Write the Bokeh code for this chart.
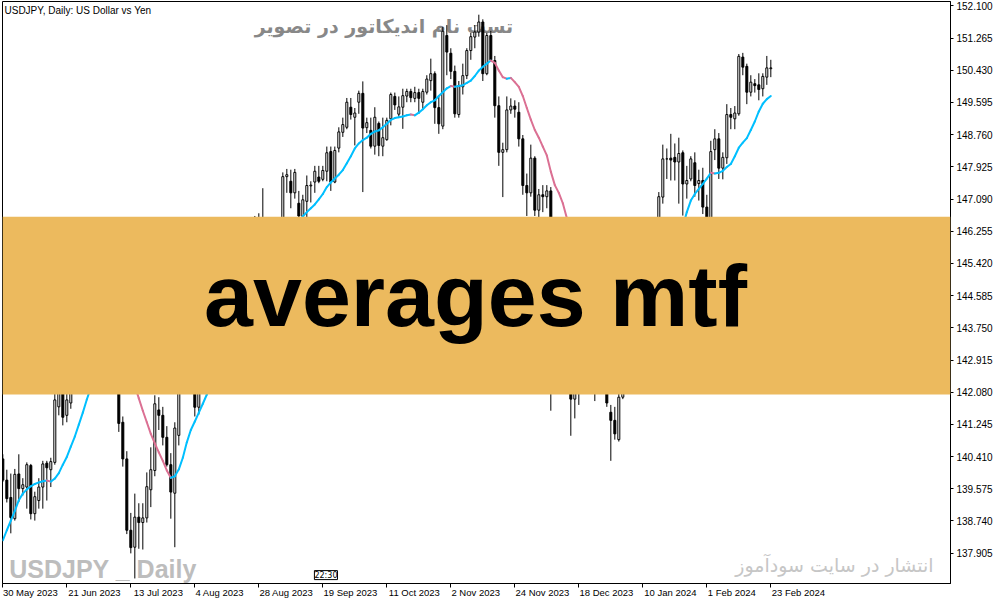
from bokeh.plotting import figure
from bokeh.models import Range1d, FixedTicker, BoxAnnotation, Label, ColumnDataSource
from bokeh.core.properties import value
from bokeh.embed import file_html
from bokeh.resources import INLINE

# ---------------- data ----------------
x_label_bar = [0, 16, 32, 48, 64, 80, 96, 112, 128, 144, 160, 176, 192]
x_label_text = ["30 May 2023", "21 Jun 2023", "13 Jul 2023", "4 Aug 2023", "28 Aug 2023",
                "19 Sep 2023", "11 Oct 2023", "2 Nov 2023", "24 Nov 2023", "18 Dec 2023",
                "10 Jan 2024", "1 Feb 2024", "23 Feb 2024"]
price_ticks = [137.905, 138.740, 139.575, 140.410, 141.245, 142.080, 142.915, 143.750, 144.585,
               145.420, 146.255, 147.090, 147.925, 148.760, 149.595, 150.430, 151.265, 152.100]

opens = [140.35, 139.80, 139.35, 138.80, 139.96, 139.58, 139.62, 140.18, 138.93, 139.27,
         139.62, 140.24, 140.07, 140.26, 141.70, 142.10, 141.48, 141.80, 143.10, 143.70,
         143.45, 144.05, 144.45, 144.80, 144.30, 144.65, 144.45, 144.60, 144.05, 142.10,
         141.30, 140.35, 138.50, 138.06, 138.84, 138.70, 138.82, 139.55, 140.05, 141.62,
         141.48, 140.91, 140.20, 139.46, 140.96, 142.30, 143.35, 143.30, 142.55, 141.69,
         142.45, 143.35, 143.75, 144.75, 144.95, 145.55, 145.60, 146.35, 145.85, 145.40,
         146.20, 145.85, 144.85, 146.10, 146.40, 146.55, 145.90, 146.15, 145.55, 146.20,
         146.50, 147.67, 147.55, 147.25, 146.98, 146.64, 147.03, 147.43, 147.53, 147.66,
         147.60, 147.81, 148.32, 147.53, 148.41, 148.82, 148.95, 149.47, 149.21, 149.60,
         149.83, 148.94, 148.87, 148.46, 149.05, 148.46, 148.63, 149.17, 149.75, 149.29,
         149.47, 149.76, 149.88, 149.70, 149.85, 149.60, 149.86, 150.16, 150.34, 149.46,
         148.98, 151.33, 150.87, 150.40, 149.28, 150.00, 150.29, 150.94, 151.29, 151.42,
         151.68, 150.34, 151.33, 150.68, 149.51, 148.30, 148.37, 149.40, 149.50, 149.34,
         148.65, 147.44, 147.25, 148.15, 146.80, 147.20, 147.15, 147.30, 144.10, 144.95,
         146.15, 145.45, 142.90, 141.90, 142.15, 142.80, 143.80, 143.55, 142.10, 142.35,
         142.40, 142.45, 141.56, 141.35, 140.85, 141.95, 143.25, 144.60, 144.60, 144.25,
         144.45, 145.75, 145.30, 144.90, 145.75, 147.14, 148.13, 148.15, 148.17, 148.05,
         148.29, 147.48, 147.61, 148.03, 147.49, 147.57, 146.88, 146.40, 148.37, 148.65,
         147.89, 148.16, 149.28, 149.17, 149.30, 150.77, 150.53, 149.86, 150.08, 150.05,
         149.95, 150.25, 150.47]
highs = [140.47, 140.07, 139.97, 140.09, 140.47, 139.85, 140.26, 140.22, 139.50, 139.85,
         140.30, 140.30, 140.38, 142.05, 142.25, 142.20, 142.10, 143.20, 143.85, 143.75,
         144.15, 144.65, 144.90, 145.05, 144.90, 144.70, 144.70, 144.70, 144.20, 142.35,
         141.45, 140.55, 138.95, 139.45, 139.20, 139.20, 140.00, 140.65, 142.00, 141.95,
         141.70, 141.20, 140.50, 141.30, 142.70, 143.55, 143.90, 143.90, 142.90, 142.55,
         143.40, 143.90, 144.80, 145.00, 145.60, 145.85, 146.40, 146.55, 145.95, 146.25,
         146.35, 146.00, 146.15, 146.65, 146.72, 147.37, 146.30, 146.25, 146.30, 146.60,
         147.78, 147.87, 147.85, 147.87, 147.30, 147.20, 147.70, 147.55, 147.95, 147.95,
         147.95, 148.45, 148.45, 148.45, 148.95, 149.20, 149.71, 149.71, 149.45, 149.90,
         150.14, 149.20, 149.20, 149.47, 149.10, 149.20, 149.20, 149.85, 149.85, 149.75,
         149.95, 149.95, 149.95, 150.00, 149.95, 149.95, 150.30, 150.73, 150.40, 149.75,
         151.55, 151.60, 151.00, 150.55, 150.15, 150.60, 151.00, 151.40, 151.60, 151.87,
         151.75, 151.40, 151.45, 150.80, 149.75, 148.55, 149.75, 149.70, 149.65, 149.60,
         148.75, 147.75, 148.50, 148.20, 147.35, 147.45, 147.45, 147.40, 145.20, 146.60,
         146.30, 145.50, 143.00, 142.25, 142.85, 144.95, 143.85, 143.70, 142.55, 142.50,
         142.55, 142.55, 141.75, 141.70, 142.20, 143.45, 144.85, 145.95, 144.95, 144.60,
         145.85, 146.40, 145.55, 146.00, 147.27, 148.50, 148.40, 148.78, 148.53, 148.68,
         148.35, 147.95, 148.20, 148.30, 147.85, 147.90, 147.20, 148.60, 148.90, 148.80,
         148.30, 149.55, 149.45, 149.50, 150.85, 150.88, 150.60, 150.30, 150.20, 150.35,
         150.35, 150.80, 150.70]
lows = [139.75, 139.22, 138.42, 138.75, 139.23, 139.40, 139.06, 138.78, 138.75, 139.06,
        139.06, 139.27, 139.62, 140.20, 141.48, 141.22, 141.30, 141.65, 142.95, 143.00,
        143.25, 143.70, 144.15, 144.10, 144.25, 144.25, 143.95, 143.55, 142.05, 141.05,
        140.15, 138.40, 137.90, 137.25, 138.02, 138.00, 138.70, 139.10, 139.90, 141.10,
        140.70, 140.15, 138.80, 138.06, 140.70, 142.20, 142.90, 142.35, 141.45, 141.50,
        142.30, 142.90, 143.10, 144.20, 144.70, 144.95, 145.35, 145.70, 144.90, 145.20,
        145.50, 144.55, 144.85, 145.75, 146.00, 145.85, 145.55, 145.35, 144.45, 146.00,
        146.40, 147.25, 146.85, 147.10, 145.90, 146.40, 146.60, 147.00, 147.25, 147.50,
        147.55, 147.55, 147.30, 147.50, 148.30, 148.70, 148.90, 149.15, 148.48, 149.30,
        147.27, 148.80, 148.40, 148.24, 148.20, 148.20, 148.60, 149.00, 149.40, 149.20,
        148.91, 149.60, 149.60, 149.60, 149.30, 149.40, 149.80, 149.90, 149.04, 148.78,
        148.90, 150.30, 150.20, 149.20, 149.20, 149.80, 150.20, 150.70, 151.00, 151.30,
        150.15, 150.30, 150.65, 149.20, 147.95, 147.14, 148.30, 149.30, 149.20, 148.45,
        147.20, 146.65, 147.15, 146.65, 146.25, 146.75, 146.85, 141.60, 143.70, 144.95,
        145.20, 142.70, 140.95, 141.40, 141.75, 142.75, 142.90, 142.05, 141.85, 142.20,
        142.05, 141.70, 140.30, 140.85, 140.80, 141.90, 142.80, 143.80, 143.65, 143.40,
        144.35, 144.95, 144.35, 144.90, 145.70, 146.97, 147.61, 147.57, 147.57, 146.97,
        146.66, 147.10, 147.55, 147.15, 147.05, 146.70, 145.90, 146.10, 148.10, 147.61,
        147.60, 148.00, 148.90, 148.90, 149.25, 150.30, 149.55, 149.75, 149.85, 149.65,
        149.75, 150.05, 150.25]
closes = [139.80, 139.32, 138.83, 139.95, 139.58, 139.68, 140.20, 138.93, 139.37, 139.62,
          140.22, 140.12, 140.28, 141.88, 142.10, 141.43, 141.88, 143.10, 143.70, 143.45,
          144.05, 144.45, 144.80, 144.30, 144.65, 144.45, 144.60, 144.05, 142.10, 141.27,
          140.35, 138.50, 138.05, 138.84, 138.70, 138.82, 139.63, 140.07, 141.78, 141.48,
          140.91, 140.20, 139.49, 141.15, 142.30, 143.35, 143.30, 142.55, 141.69, 142.45,
          143.35, 143.75, 144.75, 144.95, 145.55, 145.60, 146.35, 145.85, 145.40, 146.20,
          145.85, 144.85, 146.10, 146.40, 146.55, 145.90, 146.15, 145.55, 146.20, 146.50,
          147.67, 147.72, 147.25, 147.78, 146.65, 147.07, 147.44, 147.45, 147.81, 147.55,
          147.83, 148.29, 147.53, 148.35, 148.83, 149.02, 149.60, 149.28, 149.32, 149.83,
          148.93, 149.07, 148.46, 149.21, 148.48, 148.68, 149.13, 149.80, 149.53, 149.48,
          149.77, 149.88, 149.72, 149.85, 149.70, 149.88, 150.20, 150.34, 149.46, 149.04,
          151.44, 150.90, 150.40, 149.30, 150.03, 150.29, 150.94, 151.30, 151.42, 151.68,
          150.34, 151.33, 150.70, 149.51, 148.30, 148.37, 149.40, 149.50, 149.42, 148.65,
          147.44, 147.25, 148.15, 146.80, 147.20, 147.15, 147.30, 144.10, 144.95, 146.15,
          145.45, 142.90, 141.90, 142.15, 142.80, 143.80, 143.55, 142.10, 142.40, 142.40,
          142.45, 141.80, 141.35, 141.00, 141.95, 143.25, 144.60, 144.60, 144.25, 144.45,
          145.75, 145.30, 144.90, 145.75, 147.15, 148.13, 148.13, 148.10, 148.05, 148.27,
          147.48, 147.57, 148.13, 147.44, 147.57, 146.88, 146.40, 148.32, 148.65, 147.89,
          148.17, 149.28, 149.21, 149.32, 150.79, 150.51, 149.86, 150.12, 150.03, 149.93,
          150.27, 150.49, 150.49]

# moving average (bar index, value)
ma_bars = [0, 1, 2, 3, 4, 5, 6, 7, 8, 9, 10, 11, 12, 13, 14, 15, 16, 17, 18, 19, 20, 21, 22, 23,
           24, 25, 26, 27, 28, 29, 30, 31, 32, 33, 34, 35, 36, 37, 38, 39, 40, 41, 42, 43, 44, 45,
           46, 47, 48, 49, 50, 51, 53, 55, 57, 59, 61, 63, 65, 67, 69, 71, 73, 75, 76, 77, 78, 79,
           80, 81, 82, 83, 84, 85, 86, 87, 88, 89, 90, 91, 92, 93, 94, 95, 96, 97, 98, 99, 100,
           101, 102, 103, 104, 105, 106, 107, 108, 109, 110, 111, 112, 113, 114, 115, 116, 117,
           118, 119, 120, 121, 122, 123, 124, 125, 126, 127, 128, 129, 130, 131, 132, 133, 134,
           135, 136, 137, 138, 139, 140, 141, 143, 145, 147, 149, 151, 153, 155, 157, 158, 159,
           161, 163, 165, 167, 169, 171, 172, 173, 174, 175, 176, 177, 178, 179, 180, 181, 182,
           183, 184, 185, 186, 187, 188, 189, 190, 191, 192]
ma_vals = [138.24, 138.50, 138.75, 139.00, 139.28, 139.45, 139.56, 139.64, 139.70, 139.74, 139.77,
           139.79, 139.76, 139.84, 139.98, 140.20, 140.40, 140.67, 140.93, 141.24, 141.55, 141.89,
           142.20, 142.50, 142.78, 143.00, 143.20, 143.33, 143.38, 143.30, 143.10, 142.85, 142.55,
           142.25, 141.92, 141.60, 141.30, 141.00, 140.75, 140.52, 140.30, 140.05, 139.86, 139.90,
           140.08, 140.38, 140.78, 141.10, 141.32, 141.55, 141.78, 142.02, 142.50, 143.00, 143.55,
           144.05, 144.50, 144.90, 145.25, 145.60, 145.90, 146.15, 146.40, 146.64, 146.75, 146.85,
           146.95, 147.08, 147.22, 147.40, 147.52, 147.62, 147.72, 147.84, 148.02, 148.20, 148.40,
           148.53, 148.62, 148.68, 148.78, 148.84, 148.87, 148.95, 149.04, 149.14, 149.19, 149.21,
           149.23, 149.26, 149.28, 149.26, 149.33, 149.42, 149.52, 149.60, 149.65, 149.76, 149.86,
           149.96, 150.02, 150.00, 150.02, 150.04, 150.10, 150.16, 150.28, 150.42, 150.52, 150.60,
           150.68, 150.62, 150.42, 150.25, 150.21, 150.23, 150.12, 150.00, 149.76, 149.45, 149.15,
           148.88, 148.68, 148.45, 148.22, 147.80, 147.45, 147.25, 146.98, 146.60, 146.00, 145.40,
           144.80, 144.20, 143.70, 143.30, 143.00, 142.85, 142.80, 142.85, 143.20, 143.80, 144.50,
           145.20, 146.00, 146.75, 147.05, 147.22, 147.35, 147.48, 147.62, 147.77, 147.75, 147.77,
           147.82, 147.92, 148.00, 148.20, 148.42, 148.55, 148.67, 148.88, 149.10, 149.36, 149.56,
           149.68, 149.76]

banner_top, banner_bottom = 146.63, 142.02

# ---------------- figure ----------------
X0, X1 = -0.08, 236.92
Y0, Y1 = 137.119, 152.212
FW, FH = 948, 582
BLUE, PINK = "#00BFFF", "#DB7093"

p = figure(frame_width=FW, frame_height=FH, x_range=Range1d(X0, X1), y_range=Range1d(Y0, Y1),
           output_backend="svg", toolbar_location=None, y_axis_location="right",
           min_border_left=2, min_border_top=1, min_border_right=0, min_border_bottom=0,
           background_fill_color="white", border_fill_color="white")
p.outline_line_color = "black"
p.outline_line_width = 1
p.xgrid.visible = False
p.ygrid.visible = False

# right price axis
ya = p.yaxis[0]
ya.ticker = FixedTicker(ticks=price_ticks, minor_ticks=[])
ya.major_label_overrides = {t: f"{t:.3f}" for t in price_ticks}
ya.major_tick_out = 3
ya.major_tick_in = 0
ya.major_label_standoff = 3
ya.axis_line_color = "black"
ya.major_tick_line_color = "black"
ya.minor_tick_line_color = None
ya.major_label_text_font = "Liberation Sans"
ya.major_label_text_font_size = "10px"
ya.major_label_text_color = "black"

# bottom time axis: tick marks at the dates (minor ticks), labels starting at them (major ticks)
px_per_bar = FW / (X1 - X0)
LBL_SIZE = 9.5


def text_w(s, size):
    w = 0.0
    for ch in s:
        if ch.isdigit():
            w += 0.556
        elif ch == " ":
            w += 0.278
        elif ch.isupper():
            w += 0.70
        else:
            w += 0.50
    return w * size


label_pos = [round(b + (1.0 + text_w(s, LBL_SIZE) / 2) / px_per_bar, 3)
             for b, s in zip(x_label_bar, x_label_text)]
xa = p.xaxis[0]
xa.ticker = FixedTicker(ticks=label_pos, minor_ticks=x_label_bar)
xa.major_label_overrides = {pos: s for pos, s in zip(label_pos, x_label_text)}
xa.major_tick_line_color = None
xa.major_tick_out = 0
xa.major_tick_in = 0
xa.minor_tick_line_color = "black"
xa.minor_tick_out = 4
xa.minor_tick_in = 0
xa.major_label_standoff = -1
xa.axis_line_color = "black"
xa.major_label_text_font = "Liberation Sans"
xa.major_label_text_font_size = f"{LBL_SIZE}px"
xa.major_label_text_color = "black"

# background texts (behind candles)
p.text(x=[0.42], y=[151.99], text=["USDJPY, Daily:  US Dollar vs Yen"], text_font=value("Liberation Sans"),
       text_font_size=value("10px"), text_color="black", text_align="left", text_baseline="alphabetic")
p.text(x=[127.6], y=[151.58], text=["تست نام اندیکاتور در تصویر"], text_font=value("DejaVu Sans"),
       text_font_size=value("19px"), text_font_style="bold", text_color="#888888",
       text_align="right", text_baseline="alphabetic")
p.text(x=[1.6], y=[137.50], text=["USDJPY _ Daily"], text_font=value("Liberation Sans"),
       text_font_size=value("25px"), text_font_style="bold", text_color="#BDBDBD",
       text_align="left", text_baseline="alphabetic")
p.text(x=[232.7], y=[137.60], text=["انتشار در سایت سودآموز"], text_font=value("DejaVu Sans"),
       text_font_size=value("19px"), text_color="#C6C6C6", text_align="right", text_baseline="alphabetic")

# candles
bars = list(range(len(opens)))
src = ColumnDataSource(dict(
    x=bars, h=highs, l=lows,
    top=[max(o, c) for o, c in zip(opens, closes)],
    bottom=[min(o, c) for o, c in zip(opens, closes)],
    fill=["white" if c >= o else "black" for o, c in zip(opens, closes)],
))
p.segment(x0="x", y0="h", x1="x", y1="l", source=src, line_color="black", line_width=1)
p.vbar(x="x", width=0.5, top="top", bottom="bottom", fill_color="fill", line_color="black",
       line_width=1, source=src)

# coloured moving average
ma_src = ColumnDataSource(dict(
    x0=ma_bars[:-1], y0=ma_vals[:-1], x1=ma_bars[1:], y1=ma_vals[1:],
    col=[BLUE if b >= a else PINK for a, b in zip(ma_vals[:-1], ma_vals[1:])],
))
p.segment(x0="x0", y0="y0", x1="x1", y1="y1", line_color="col", line_width=2, line_cap="round",
          source=ma_src)

# time-left marker
p.add_layout(Label(x=77.9, y=137.22, text="22:30", text_font="DejaVu Sans", text_font_size="8px",
                   text_color="black", text_align="left", text_baseline="bottom",
                   border_line_color="black", border_line_width=1, background_fill_color="white"))

# banner
p.add_layout(BoxAnnotation(top=banner_top, bottom=banner_bottom, fill_color="#ECBA5E", fill_alpha=1.0,
                           line_color=None))
p.add_layout(Label(x=118.17, y=144.60, text="averages mtf", text_align="center", text_baseline="alphabetic",
                   text_font="Liberation Sans", text_font_style="bold", text_font_size="88px",
                   text_color="black"))

open("out.html", "w").write(file_html(p, INLINE))
